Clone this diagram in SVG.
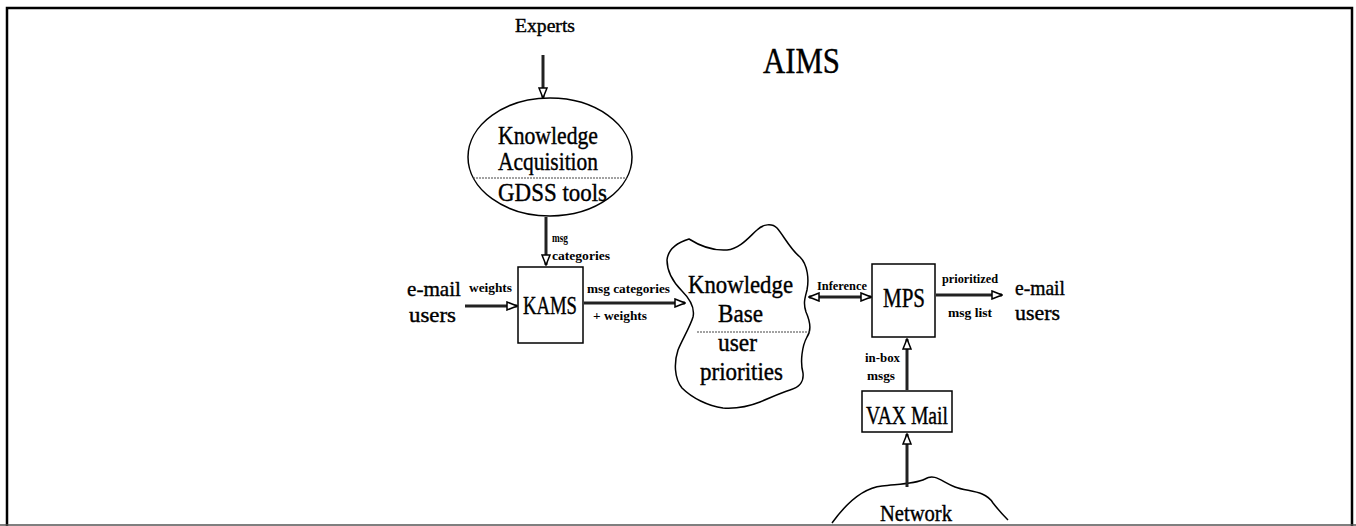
<svg xmlns="http://www.w3.org/2000/svg" width="1356" height="526" viewBox="0 0 1356 526">
<style>
.big{font-family:"Liberation Serif","Times New Roman",serif;fill:#000;stroke:#000;stroke-width:0.4}
.lbl{font-family:"Liberation Serif","Times New Roman",serif;font-weight:bold;font-size:12px;fill:#000}
.shape{fill:#fff;stroke:#000;stroke-width:1.5}
.div{stroke:#444;stroke-width:1;stroke-dasharray:2 1;fill:none}
.arr{stroke:#222;stroke-width:3;fill:none;marker-end:url(#ah)}
.arr2{stroke:#222;stroke-width:3;fill:none;marker-end:url(#ah);marker-start:url(#ah)}
</style>
<defs>
<marker id="ah" markerUnits="userSpaceOnUse" markerWidth="12" markerHeight="10" refX="11" refY="5" orient="auto-start-reverse">
<path d="M1,1 L11,5 L1,9 z" fill="#fff" stroke="#000" stroke-width="1.5"/>
</marker>
</defs>
<rect width="1356" height="526" fill="#fff"/>
<g id="frame">
<path d="M7,526 L7,8 L1352,8 L1352,526" fill="none" stroke="#000" stroke-width="2.5"/>
<line x1="0" y1="525" x2="1356" y2="525" stroke="#555" stroke-width="1.5"/>
</g>
<g id="title"><text class="big" x="763" y="73" font-size="36" textLength="77" lengthAdjust="spacingAndGlyphs">AIMS</text></g>
<g id="experts"><text class="big" x="515" y="32" font-size="19" textLength="60" lengthAdjust="spacingAndGlyphs">Experts</text></g>
<g id="knowledge-acquisition">
<ellipse class="shape" cx="550" cy="157" rx="82" ry="59"/>
<line class="div" x1="473" y1="178" x2="627" y2="178"/>
<text class="big" x="498" y="144" font-size="26" textLength="100" lengthAdjust="spacingAndGlyphs">Knowledge</text>
<text class="big" x="498" y="170" font-size="25" textLength="100" lengthAdjust="spacingAndGlyphs">Acquisition</text>
<text class="big" x="498" y="201" font-size="26" textLength="109" lengthAdjust="spacingAndGlyphs">GDSS tools</text>
</g>
<g id="email-users-left">
<text class="big" x="407" y="296" font-size="22" textLength="54" lengthAdjust="spacingAndGlyphs">e-mail</text>
<text class="big" x="409" y="322" font-size="22" textLength="47" lengthAdjust="spacingAndGlyphs">users</text>
</g>
<g id="kams">
<rect class="shape" x="518" y="267" width="65" height="76"/>
<text class="big" x="523" y="314" font-size="26" textLength="54" lengthAdjust="spacingAndGlyphs">KAMS</text>
</g>
<g id="knowledge-base">
<path class="shape" d="M689,239 C700,246 712,251 727,250 C740,249 750,236 757,230 C763,224 772,223 777,228 C784,236 790,249 800,257 C808,265 809,280 807,290 C805,298 803,303 806,312 C810,321 812,330 807,337 C802,346 800,362 803,373 C804,382 800,387 790,390 C780,393 770,398 760,402 C750,406 738,409 723,408 C708,406 692,398 682,388 C674,378 674,362 678,350 C682,340 690,327 693,317 C695,308 690,299 682,291 C673,282 667,272 667,260 C668,250 676,243 689,239 Z"/>
<line class="div" x1="697" y1="332" x2="810" y2="332"/>
<text class="big" x="688" y="293" font-size="26" textLength="105" lengthAdjust="spacingAndGlyphs">Knowledge</text>
<text class="big" x="718" y="322" font-size="25" textLength="45" lengthAdjust="spacingAndGlyphs">Base</text>
<text class="big" x="718" y="351" font-size="25" textLength="39" lengthAdjust="spacingAndGlyphs">user</text>
<text class="big" x="700" y="380" font-size="25" textLength="83" lengthAdjust="spacingAndGlyphs">priorities</text>
</g>
<g id="mps">
<rect class="shape" x="872" y="264" width="63" height="73"/>
<text class="big" x="883" y="307" font-size="27" textLength="42" lengthAdjust="spacingAndGlyphs">MPS</text>
</g>
<g id="email-users-right">
<text class="big" x="1015" y="295" font-size="21" textLength="50" lengthAdjust="spacingAndGlyphs">e-mail</text>
<text class="big" x="1015" y="320" font-size="21" textLength="45" lengthAdjust="spacingAndGlyphs">users</text>
</g>
<g id="vax-mail">
<rect class="shape" x="862" y="391" width="90" height="41"/>
<text class="big" x="866" y="424" font-size="25" textLength="82" lengthAdjust="spacingAndGlyphs">VAX Mail</text>
</g>
<g id="network">
<path d="M832,523 C845,505 862,488 882,486 C900,484 915,484 925,479 C935,473 942,482 955,487 C968,492 985,490 993,503 C1000,512 1005,517 1008,520" fill="none" stroke="#000" stroke-width="1.5"/>
<text class="big" x="880" y="521" font-size="24" textLength="72" lengthAdjust="spacingAndGlyphs">Network</text>
</g>
<g id="connectors">
<line class="arr" x1="543" y1="55" x2="543" y2="98"/>
<line class="arr" x1="546" y1="217" x2="546" y2="265"/>
<text class="lbl" x="552" y="242" textLength="16" lengthAdjust="spacingAndGlyphs">msg</text>
<text class="lbl" x="552" y="260" textLength="58" lengthAdjust="spacingAndGlyphs">categories</text>
<line class="arr" x1="465" y1="306" x2="517" y2="306"/>
<text class="lbl" x="469" y="292" textLength="43" lengthAdjust="spacingAndGlyphs">weights</text>
<line class="arr" x1="584" y1="303" x2="685" y2="303"/>
<text class="lbl" x="587" y="293" textLength="83" lengthAdjust="spacingAndGlyphs">msg categories</text>
<text class="lbl" x="593" y="320" textLength="54" lengthAdjust="spacingAndGlyphs">+ weights</text>
<line class="arr2" x1="809" y1="297" x2="871" y2="297"/>
<text class="lbl" x="817" y="290" textLength="50" lengthAdjust="spacingAndGlyphs">Inference</text>
<line class="arr" x1="936" y1="295" x2="1002" y2="295"/>
<text class="lbl" x="942" y="283" textLength="56" lengthAdjust="spacingAndGlyphs">prioritized</text>
<text class="lbl" x="948" y="317" textLength="44" lengthAdjust="spacingAndGlyphs">msg list</text>
<line class="arr" x1="907" y1="390" x2="907" y2="339"/>
<text class="lbl" x="865" y="362" textLength="35" lengthAdjust="spacingAndGlyphs">in-box</text>
<text class="lbl" x="867" y="380" textLength="28" lengthAdjust="spacingAndGlyphs">msgs</text>
<line class="arr" x1="907" y1="487" x2="907" y2="434"/>
</g>
</svg>
